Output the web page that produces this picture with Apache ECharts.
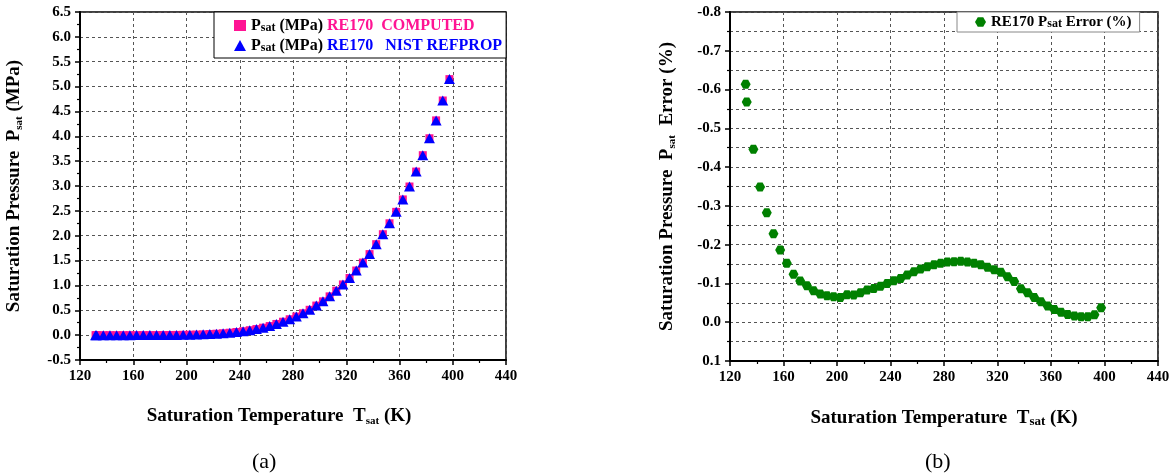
<!DOCTYPE html>
<html>
<head>
<meta charset="utf-8">
<script src="https://cdn.jsdelivr.net/npm/echarts@6/dist/echarts.min.js"></script>
<style>
html,body{margin:0;padding:0;background:#fff;}
#chart{width:1174px;height:475px;}
</style>
</head>
<body>
<div id="chart"></div>
<script>
// Saturation temperature (K)
const T_SAT = [131.7, 132.5, 137.5, 142.5, 147.5, 152.5, 157.5, 162.5, 167.5, 172.5,
  177.5, 182.5, 187.5, 192.5, 197.5, 202.5, 207.5, 212.5, 217.5, 222.5,
  227.5, 232.5, 237.5, 242.5, 247.5, 252.5, 257.5, 262.5, 267.5, 272.5,
  277.5, 282.5, 287.5, 292.5, 297.5, 302.5, 307.5, 312.5, 317.5, 322.5,
  327.5, 332.5, 337.5, 342.5, 347.5, 352.5, 357.5, 362.5, 367.5, 372.5,
  377.5, 382.5, 387.5, 392.5, 397.5];
// Psat (MPa) RE170 computed
const P_COMPUTED = [0.0000, 0.0000, 0.0000, 0.0001, 0.0001, 0.0002, 0.0003, 0.0005, 0.0007, 0.0010,
  0.0015, 0.0022, 0.0032, 0.0046, 0.0065, 0.0090, 0.012, 0.016, 0.022, 0.029,
  0.038, 0.049, 0.063, 0.079, 0.099, 0.122, 0.150, 0.183, 0.225, 0.270,
  0.320, 0.375, 0.440, 0.510, 0.595, 0.680, 0.780, 0.895, 1.020, 1.150,
  1.300, 1.460, 1.630, 1.830, 2.030, 2.250, 2.480, 2.730, 2.990, 3.290,
  3.620, 3.960, 4.320, 4.720, 5.150];
// Psat (MPa) RE170 NIST REFPROP
const P_REFPROP = [0.0000, 0.0000, 0.0000, 0.0001, 0.0001, 0.0002, 0.0003, 0.0005, 0.0007, 0.0010,
  0.0015, 0.0022, 0.0032, 0.0046, 0.0065, 0.0090, 0.012, 0.016, 0.022, 0.029,
  0.038, 0.049, 0.063, 0.079, 0.099, 0.122, 0.150, 0.183, 0.225, 0.270,
  0.320, 0.375, 0.440, 0.510, 0.595, 0.680, 0.780, 0.895, 1.020, 1.150,
  1.300, 1.460, 1.630, 1.830, 2.030, 2.250, 2.480, 2.730, 2.990, 3.290,
  3.620, 3.960, 4.320, 4.720, 5.150];
// RE170 Psat error (%)
const P_ERROR = [-0.614, -0.568, -0.446, -0.349, -0.282, -0.228, -0.186, -0.152, -0.124, -0.106,
  -0.094, -0.081, -0.073, -0.068, -0.066, -0.064, -0.071, -0.070, -0.076, -0.083,
  -0.087, -0.093, -0.100, -0.107, -0.113, -0.122, -0.130, -0.137, -0.143, -0.148,
  -0.152, -0.155, -0.156, -0.157, -0.155, -0.152, -0.148, -0.142, -0.135, -0.129,
  -0.117, -0.105, -0.086, -0.076, -0.064, -0.053, -0.042, -0.033, -0.026, -0.020,
  -0.016, -0.014, -0.014, -0.019, -0.037];

const X_TICKS = [120, 160, 200, 240, 280, 320, 360, 400, 440];
const P_TICKS = [-0.5, 0.0, 0.5, 1.0, 1.5, 2.0, 2.5, 3.0, 3.5, 4.0, 4.5, 5.0, 5.5, 6.0, 6.5];
const ERR_TICKS = [-0.8, -0.7, -0.6, -0.5, -0.4, -0.3, -0.2, -0.1, 0.0, 0.1];

const FF = 'Liberation Serif';
const PINK = '#ff1493';
const BLUE = '#0000ff';
const GREEN = '#008000';
const HEX = 'path://M5,0 L15,0 L20,8.66 L15,17.32 L5,17.32 L0,8.66 Z';

function pairs(xs, ys) { return xs.map((x, i) => [x, ys[i]]); }

const gridLine = { show: true, lineStyle: { color: '#555', type: [3, 3], width: 1 } };
const axisLine = { show: true, onZero: false, lineStyle: { color: '#000', width: 2 } };
const axisTick = { show: true, length: 5, lineStyle: { color: '#000', width: 1.5 } };
const minorTick = { show: true, splitNumber: 2, length: 3, lineStyle: { color: '#000', width: 1.2 } };
const labelStyle = { fontFamily: FF, fontWeight: 'bold', fontSize: 15, color: '#000' };

const subRich = {
  m: { fontFamily: FF, fontWeight: 'bold', fontSize: 19, color: '#000', verticalAlign: 'top', lineHeight: 20 },
  s: { fontFamily: FF, fontWeight: 'bold', fontSize: 11, color: '#000', verticalAlign: 'bottom', lineHeight: 11, padding: [12, 0, 0, 0] }
};
const inlineRich = {
  m: { fontFamily: FF, fontWeight: 'bold', fontSize: 19, color: '#000', verticalAlign: 'bottom', lineHeight: 20 },
  t: { fontFamily: FF, fontWeight: 'bold', fontSize: 13, color: '#000', verticalAlign: 'bottom', lineHeight: 15 }
};

function xAxisCfg(gridIndex, rich, name, extraPad) {
  return {
    type: 'value', gridIndex, min: X_TICKS[0], max: X_TICKS[X_TICKS.length - 1], interval: 40,
    axisLine, axisTick, minorTick,
    splitLine: gridLine,
    axisLabel: Object.assign({ margin: 9 }, labelStyle),
    name, nameLocation: 'middle', nameGap: 47,
    nameTextStyle: { rich, padding: extraPad }
  };
}

const option = {
  backgroundColor: '#fff',
  animation: false,
  title: [
    { text: '(a)', left: 247, top: 446, textStyle: { fontFamily: FF, fontWeight: 'normal', fontSize: 22, color: '#000' } },
    { text: '(b)', left: 920, top: 446, textStyle: { fontFamily: FF, fontWeight: 'normal', fontSize: 22, color: '#000' } }
  ],
  grid: [
    { left: 80, top: 12, width: 426, height: 348, show: true, borderColor: '#000', borderWidth: 1.5, backgroundColor: 'transparent' },
    { left: 730, top: 12, width: 428, height: 349, show: true, borderColor: '#000', borderWidth: 1.5, backgroundColor: 'transparent' }
  ],
  legend: [
    {
      orient: 'vertical', left: 214, top: 12, itemGap: 4, itemWidth: 12, itemHeight: 11,
      backgroundColor: '#fff', borderColor: '#000', borderWidth: 1, borderRadius: 0,
      padding: [6, 4, 4, 20],
      data: [{ name: 'computed', icon: 'rect' }, { name: 'refprop', icon: 'triangle' }],
      formatter: function (n) {
        return n === 'computed'
          ? '{k|P}{s|sat}{k| (MPa) }{p|RE170  COMPUTED}'
          : '{k|P}{s|sat}{k| (MPa) }{b|RE170   NIST REFPROP}';
      },
      textStyle: {
        rich: {
          k: { fontFamily: FF, fontWeight: 'bold', fontSize: 16, color: '#000', verticalAlign: 'bottom', lineHeight: 17 },
          s: { fontFamily: FF, fontWeight: 'bold', fontSize: 12, color: '#000', verticalAlign: 'bottom', lineHeight: 15 },
          p: { fontFamily: FF, fontWeight: 'bold', fontSize: 16, color: PINK, verticalAlign: 'bottom', lineHeight: 17 },
          b: { fontFamily: FF, fontWeight: 'bold', fontSize: 16, color: BLUE, verticalAlign: 'bottom', lineHeight: 17 }
        }
      }
    },
    {
      orient: 'vertical', left: 957, top: 12, itemWidth: 11, itemHeight: 10,
      backgroundColor: '#fff', borderColor: '#888', borderWidth: 1, borderRadius: 0,
      padding: [3, 8, 2, 18],
      data: [{ name: 'err', icon: HEX }],
      formatter: function () { return '{k|RE170 P}{s|sat}{k| Error (%)}'; },
      textStyle: {
        rich: {
          k: { fontFamily: FF, fontWeight: 'bold', fontSize: 15, color: '#000', verticalAlign: 'bottom', lineHeight: 16 },
          s: { fontFamily: FF, fontWeight: 'bold', fontSize: 12, color: '#000', verticalAlign: 'bottom', lineHeight: 14 }
        }
      }
    }
  ],
  xAxis: [
    xAxisCfg(0, subRich, '{m|Saturation Temperature  T}{s|sat}{m| (K)}', [0, 28, 0, 0]),
    xAxisCfg(1, inlineRich, '{m|Saturation Temperature  T}{t|sat}{m| (K)}', [0, 0, 0, 0])
  ],
  yAxis: [
    {
      type: 'value', gridIndex: 0, min: P_TICKS[0], max: P_TICKS[P_TICKS.length - 1], interval: 0.5,
      axisLine, axisTick, minorTick,
      splitLine: gridLine,
      axisLabel: Object.assign({ margin: 9, formatter: v => v.toFixed(1) }, labelStyle),
      name: '{m|Saturation Pressure  P}{s|sat}{m| (MPa)}', nameLocation: 'middle', nameGap: 55,
      nameTextStyle: { rich: subRich }
    },
    {
      type: 'value', gridIndex: 1, min: ERR_TICKS[0], max: ERR_TICKS[ERR_TICKS.length - 1], interval: 0.1,
      inverse: true,
      axisLine, axisTick, minorTick,
      splitLine: gridLine,
      minorSplitLine: { show: true, lineStyle: { color: '#555', type: [3, 3], width: 1 } },
      axisLabel: Object.assign({ margin: 9, formatter: v => (Math.abs(v) < 1e-9 ? 0 : v).toFixed(1) }, labelStyle),
      name: '{m|Saturation Pressure  P}{s|sat}{m|  Error (%)}', nameLocation: 'middle', nameGap: 52,
      nameTextStyle: { rich: subRich }
    }
  ],
  series: [
    {
      name: 'computed', type: 'scatter', xAxisIndex: 0, yAxisIndex: 0,
      symbol: 'rect', symbolSize: 8, itemStyle: { color: PINK, opacity: 1 },
      data: pairs(T_SAT, P_COMPUTED)
    },
    {
      name: 'refprop', type: 'scatter', xAxisIndex: 0, yAxisIndex: 0,
      symbol: 'triangle', symbolSize: [11, 10], itemStyle: { color: BLUE, opacity: 1 },
      data: pairs(T_SAT, P_REFPROP)
    },
    {
      name: 'err', type: 'scatter', xAxisIndex: 1, yAxisIndex: 1,
      symbol: HEX, symbolSize: [10, 9], itemStyle: { color: GREEN, opacity: 1 },
      data: pairs(T_SAT, P_ERROR)
    }
  ]
};

const chart = echarts.init(document.getElementById('chart'), null, { renderer: 'canvas' });
chart.setOption(option);
</script>
</body>
</html>
